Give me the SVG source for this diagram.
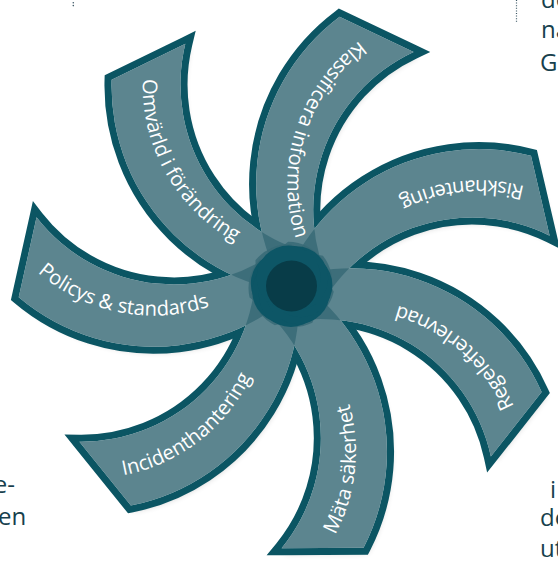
<svg xmlns="http://www.w3.org/2000/svg" width="558" height="564" viewBox="0 0 558 564">
  <defs>
    <style>
      .blade-outline { fill: none; stroke: #0b5563; stroke-width: 14; stroke-linejoin: miter; stroke-miterlimit: 4; }
      .blade-base { fill: #ffffff; }
      .blade-fill { fill: #366975; fill-opacity: 0.81; }
      .label { font-family: "Open Sans", "DejaVu Sans", sans-serif; font-size: 20px; fill: #ffffff; }
      .page { font-family: "Open Sans", "DejaVu Sans", sans-serif; font-size: 24px; fill: #173f4d; }
      .petal { fill: #0d5666; }
    </style>
    <!-- one curved blade, drawn pointing down from the hub; the others are rotations of it -->
    <path id="blade" d="M -10.7 260.5 L 70.5 260.5 A 206.9 206.9 0 0 0 -30.9 -25.6 A 42 42 0 0 0 -41.1 12.1 A 172.4 172.4 0 0 1 -10.7 260.5 Z"/>
    <!-- baseline for the blade label, running from the blade tip in toward the hub -->
    <path id="label-arc" d="M 34.8 260.5 A 176 176 0 0 0 -82.1 -8.9"/>
    <filter id="soft-shadow" filterUnits="userSpaceOnUse" x="0" y="0" width="558" height="564">
      <feOffset in="SourceAlpha" dx="3" dy="4"/>
      <feGaussianBlur stdDeviation="3.5"/>
      <feComponentTransfer>
        <feFuncA type="linear" slope="0.3"/>
      </feComponentTransfer>
    </filter>
  </defs>

  <rect width="558" height="564" fill="#ffffff"/>

  <!-- page text cut off at the edges -->
  <g id="page-text" class="page">
    <text x="541" y="8">de</text>
    <text x="541" y="38">na</text>
    <text x="540" y="71">G</text>
    <text x="550" y="498">i</text>
    <text x="540" y="526">de</text>
    <text x="540" y="557">ut</text>
    <text x="15" y="493" text-anchor="end">e-</text>
    <text x="-2" y="525">en</text>
  </g>
  <line x1="516.5" y1="0" x2="516.5" y2="23" stroke="#3d5866" stroke-width="1.2" stroke-dasharray="1 1.6"/>
  <circle cx="73.3" cy="2.8" r="0.8" fill="#3d5866"/>
  <circle cx="73.3" cy="5.6" r="0.8" fill="#3d5866"/>

  <!-- soft drop shadow under the whole wheel -->
  <g id="wheel-shadow" filter="url(#soft-shadow)">
    <g transform="translate(291 285) scale(1.01)">
      <use href="#blade" transform="rotate(-0.3)"/>
      <use href="#blade" transform="rotate(-51.7286)"/>
      <use href="#blade" transform="rotate(-103.157)"/>
      <use href="#blade" transform="rotate(-154.586)"/>
      <use href="#blade" transform="rotate(-206.014)"/>
      <use href="#blade" transform="rotate(-257.443)"/>
      <use href="#blade" transform="rotate(-308.871)"/>
    </g>
  </g>

  <!-- dark borders, kept under every fill so they stop where blades overlap -->
  <g id="wheel-outlines" class="blade-outline" transform="translate(291 285) scale(1.01)">
    <use href="#blade" transform="rotate(-0.3)"/>
    <use href="#blade" transform="rotate(-51.7286)"/>
    <use href="#blade" transform="rotate(-103.157)"/>
    <use href="#blade" transform="rotate(-154.586)"/>
    <use href="#blade" transform="rotate(-206.014)"/>
    <use href="#blade" transform="rotate(-257.443)"/>
    <use href="#blade" transform="rotate(-308.871)"/>
  </g>
  <g id="wheel-bases" class="blade-base" transform="translate(291 285) scale(1.01)">
    <use href="#blade" transform="rotate(-0.3)"/>
    <use href="#blade" transform="rotate(-51.7286)"/>
    <use href="#blade" transform="rotate(-103.157)"/>
    <use href="#blade" transform="rotate(-154.586)"/>
    <use href="#blade" transform="rotate(-206.014)"/>
    <use href="#blade" transform="rotate(-257.443)"/>
    <use href="#blade" transform="rotate(-308.871)"/>
  </g>
  <!-- translucent fills: where two blades overlap the colour comes out darker -->
  <g id="wheel-fills" class="blade-fill" transform="translate(291 285) scale(1.01)">
    <use href="#blade" transform="rotate(-0.3)"/>
    <use href="#blade" transform="rotate(-51.7286)"/>
    <use href="#blade" transform="rotate(-103.157)"/>
    <use href="#blade" transform="rotate(-154.586)"/>
    <use href="#blade" transform="rotate(-206.014)"/>
    <use href="#blade" transform="rotate(-257.443)"/>
    <use href="#blade" transform="rotate(-308.871)"/>
  </g>

  <!-- hub: scalloped ring of offset circles with a dark core -->
  <g id="hub" transform="translate(291.5 286)">
    <g class="petal">
      <circle cx="-8.7" cy="-2.3" r="32"/>
      <circle cx="-7.2" cy="5.4" r="32"/>
      <circle cx="-0.7" cy="9.0" r="32"/>
      <circle cx="6.4" cy="6.2" r="32"/>
      <circle cx="8.9" cy="-0.8" r="32"/>
      <circle cx="4.7" cy="-7.7" r="32"/>
      <circle cx="-2.9" cy="-8.5" r="32"/>
    </g>
    <circle r="25.5" fill="#083c48"/>
  </g>

  <!-- blade labels -->
  <g id="node-mata-sakerhet" transform="translate(291 285) scale(1.01) rotate(-0.3)">
    <text class="label"><textPath href="#label-arc" startOffset="15">Mäta säkerhet</textPath></text>
  </g>
  <g id="node-regelefterlevnad" transform="translate(291 285) scale(1.01) rotate(-51.7286)">
    <text class="label"><textPath href="#label-arc" startOffset="15">Regelefterlevnad</textPath></text>
  </g>
  <g id="node-riskhantering" transform="translate(291 285) scale(1.01) rotate(-103.157)">
    <text class="label"><textPath href="#label-arc" startOffset="15">Riskhantering</textPath></text>
  </g>
  <g id="node-klassificera-information" transform="translate(291 285) scale(1.01) rotate(-154.586)">
    <text class="label"><textPath href="#label-arc" startOffset="15">Klassificera information</textPath></text>
  </g>
  <g id="node-omvarld-i-forandring" transform="translate(291 285) scale(1.01) rotate(-206.014)">
    <text class="label"><textPath href="#label-arc" startOffset="15">Omvärld i förändring</textPath></text>
  </g>
  <g id="node-policys-standards" transform="translate(291 285) scale(1.01) rotate(-257.443)">
    <text class="label"><textPath href="#label-arc" startOffset="15">Policys &amp; standards</textPath></text>
  </g>
  <g id="node-incidenthantering" transform="translate(291 285) scale(1.01) rotate(-308.871)">
    <text class="label"><textPath href="#label-arc" startOffset="15">Incidenthantering</textPath></text>
  </g>
</svg>
